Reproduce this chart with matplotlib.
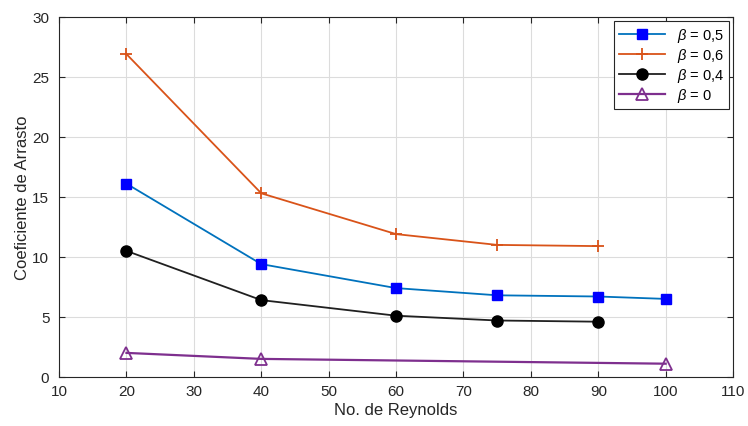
import matplotlib
matplotlib.use("Agg")
import matplotlib.pyplot as plt

plt.rcParams['font.family'] = ['Liberation Sans', 'DejaVu Sans']
plt.rcParams['mathtext.fontset'] = 'custom'
plt.rcParams['mathtext.it'] = 'Liberation Sans:italic'

re_05 = [20, 40, 60, 75, 90, 100]
cd_05 = [16.1, 9.4, 7.4, 6.8, 6.7, 6.5]
re_06 = [20, 40, 60, 75, 90]
cd_06 = [26.9, 15.3, 11.9, 11.0, 10.9]
re_04 = [20, 40, 60, 75, 90]
cd_04 = [10.5, 6.4, 5.1, 4.7, 4.6]
re_00 = [20, 40, 100]
cd_00 = [2.0, 1.5, 1.1]

fig = plt.figure(figsize=(7.48, 4.27), dpi=100)
ax = fig.add_axes([0.079, 0.115, 0.901, 0.843])

ax.plot(re_05, cd_05, color='#0072BD', marker='s', markersize=7,
        markerfacecolor='#0000FF', markeredgecolor='#0000FF', lw=1.3, label=r'$\beta$ = 0,5')
ax.plot(re_06, cd_06, color='#D95319', marker='+', markersize=9, mew=1.3,
        lw=1.3, label=r'$\beta$ = 0,6')
ax.plot(re_04, cd_04, color='#202020', marker='o', markersize=8,
        markerfacecolor='black', markeredgecolor='black', lw=1.3, label=r'$\beta$ = 0,4')
ax.plot(re_00, cd_00, color='#7E2F8E', marker='^', markersize=8, mew=1.3,
        markerfacecolor='none', lw=1.6, label=r'$\beta$ = 0')

ax.set_xlim(10, 110)
ax.set_ylim(0, 30)
ax.set_xticks(range(10, 111, 10))
ax.set_yticks(range(0, 31, 5))
ax.grid(True, color='#dcdcdc', lw=0.8)
ax.set_axisbelow(True)
ax.tick_params(direction='in', top=True, right=True, labelsize=11, colors='#262626', length=4)
ax.tick_params(axis='x', pad=5)
ax.tick_params(axis='y', pad=7)
for s in ax.spines.values():
    s.set_color('#262626')
    s.set_linewidth(0.8)

ax.set_xlabel('No. de Reynolds', fontsize=12, color='#262626', labelpad=3)
ax.set_ylabel('Coeficiente de Arrasto', fontsize=12, color='#262626', labelpad=2)

leg = ax.legend(loc='upper right', fontsize=10.5, fancybox=False, framealpha=1,
                edgecolor='#262626', borderaxespad=0.3, handlelength=3.2,
                labelspacing=0.15, borderpad=0.3)
leg.get_frame().set_linewidth(0.8)

fig.savefig('out.png', dpi=100)
